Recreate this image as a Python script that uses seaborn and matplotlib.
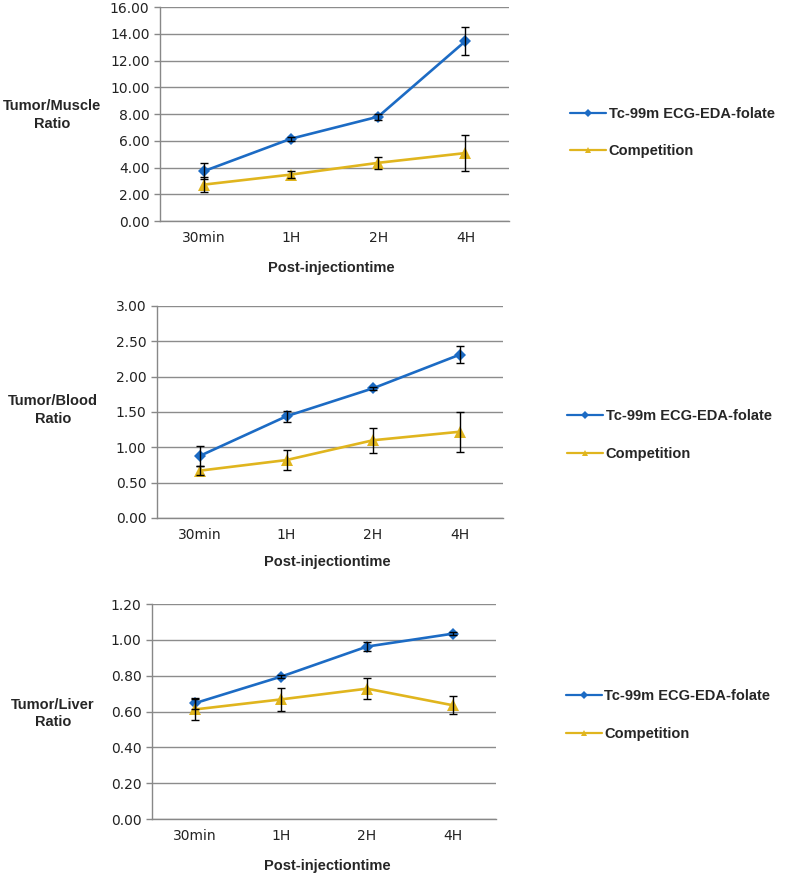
import numpy as np
import pandas as pd
import matplotlib
matplotlib.use("Agg")
import matplotlib.pyplot as plt
import seaborn as sns

times = ["30min", "1H", "2H", "4H"]
series = ["Tc-99m ECG-EDA-folate", "Competition"]

muscle_tc = [3.72, 6.15, 7.80, 13.45]
muscle_tc_err = [0.60, 0.15, 0.22, 1.05]
muscle_comp = [2.72, 3.47, 4.35, 5.08]
muscle_comp_err = [0.55, 0.28, 0.47, 1.32]

blood_tc = [0.88, 1.44, 1.835, 2.31]
blood_tc_err = [0.14, 0.08, 0.02, 0.12]
blood_comp = [0.67, 0.82, 1.10, 1.22]
blood_comp_err = [0.06, 0.14, 0.18, 0.28]

liver_tc = [0.647, 0.795, 0.963, 1.035]
liver_tc_err = [0.03, 0.01, 0.025, 0.01]
liver_comp = [0.612, 0.668, 0.728, 0.635]
liver_comp_err = [0.06, 0.065, 0.06, 0.05]

ylabels = ["Tumor/Muscle\nRatio", "Tumor/Blood\nRatio", "Tumor/Liver\nRatio"]
ylims = [(0, 16), (0, 3), (0, 1.2)]
ysteps = [2.0, 0.5, 0.2]

colors = {"Tc-99m ECG-EDA-folate": "#1C6BC4", "Competition": "#E0B51E"}
markers = {"Tc-99m ECG-EDA-folate": "D", "Competition": "^"}

sns.set_style("white")
plt.rcParams["font.family"] = ["DejaVu Sans"]

fig = plt.figure(figsize=(7.88, 8.76), dpi=100)

# axes boxes (left, bottom, width, height) in figure fraction
boxes = [
    (0.203, 0.7477, 0.443, 0.2443),
    (0.199, 0.4087, 0.439, 0.2420),
    (0.193, 0.0650, 0.4365, 0.2454),
]
ylabel_pos = [(-0.309, 0.495), (-0.300, 0.51), (-0.288, 0.49)]
xlabel_pos = [(0.49, -0.22), (0.494, -0.207), (0.51, -0.22)]
legend_pos = [(0.7234, 0.8487), (0.7195, 0.5034), (0.718, 0.1838)]

panels = [
    (muscle_tc, muscle_tc_err, muscle_comp, muscle_comp_err),
    (blood_tc, blood_tc_err, blood_comp, blood_comp_err),
    (liver_tc, liver_tc_err, liver_comp, liver_comp_err),
]

label_font = dict(family="Liberation Sans", weight="bold", size=10.5)

for i, (tc, tc_err, comp, comp_err) in enumerate(panels):
    ax = fig.add_axes(boxes[i])
    df = pd.DataFrame({
        "time": times * 2,
        "value": tc + comp,
        "series": [series[0]] * 4 + [series[1]] * 4,
    })
    sns.lineplot(data=df, x="time", y="value", hue="series", style="series",
                 markers=markers, dashes=False, palette=colors, linewidth=1.9,
                 markersize=8, markeredgewidth=0, sort=False, ax=ax, zorder=3)
    # diamonds are drawn a bit smaller than the triangles
    for ln in ax.lines:
        if ln.get_marker() == "D":
            ln.set_markersize(6.3)
    ax.errorbar(times, tc, yerr=tc_err, fmt="none", ecolor="black",
                elinewidth=1, capsize=3, capthick=1, zorder=4)
    ax.errorbar(times, comp, yerr=comp_err, fmt="none", ecolor="black",
                elinewidth=1, capsize=3, capthick=1, zorder=4)

    lo, hi = ylims[i]
    ax.set_ylim(lo, hi)
    ax.set_yticks(np.arange(lo, hi + ysteps[i] / 2, ysteps[i]))
    ax.set_yticklabels([f"{v:.2f}" for v in ax.get_yticks()])
    ax.set_xlim(-0.5, 3.5)
    ax.set_xticks(range(4))
    ax.set_xticklabels(times)
    ax.set_xticks(np.arange(-0.5, 4.0, 1.0), minor=True)
    ax.tick_params(axis="x", which="major", length=0, labelsize=10, pad=7,
                   labelcolor="#222222")
    ax.tick_params(axis="x", which="minor", length=5, width=1, color="#888888",
                   direction="out")
    ax.tick_params(axis="y", length=4, width=1, color="#888888", labelsize=10,
                   labelcolor="#222222", left=True)
    ax.yaxis.grid(True, color="#8c8c8c", linewidth=1)
    ax.xaxis.grid(False)
    ax.set_axisbelow(True)
    for side in ["top", "right"]:
        ax.spines[side].set_visible(False)
    for side in ["left", "bottom"]:
        ax.spines[side].set_color("#888888")
        ax.spines[side].set_linewidth(1)

    ax.set_ylabel(ylabels[i], rotation=0, ha="center", va="center",
                  linespacing=1.3, **label_font)
    ax.yaxis.set_label_coords(*ylabel_pos[i])
    ax.set_xlabel("Post-injectiontime", ha="center", va="center", **label_font)
    ax.xaxis.set_label_coords(*xlabel_pos[i])

    handles, labels = ax.get_legend_handles_labels()
    for h in handles:
        h.set_markersize(4.5)
        h.set_linewidth(1.6)
    ax.legend(handles, labels, loc="center left", bbox_to_anchor=legend_pos[i],
              bbox_transform=fig.transFigure, frameon=False, borderpad=0,
              borderaxespad=0, handlelength=2.5, handletextpad=0.15,
              labelspacing=1.6, prop=label_font)

fig.savefig("out.png", dpi=100)
